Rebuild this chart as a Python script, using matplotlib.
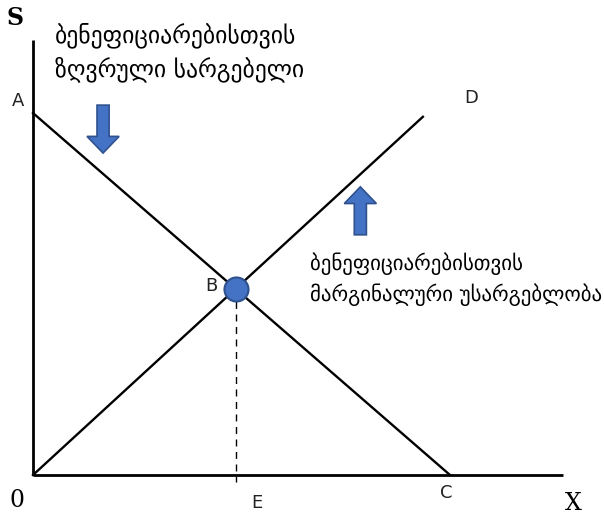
import matplotlib
matplotlib.use("Agg")
import matplotlib.pyplot as plt
import matplotlib.patches as mpatches
import numpy as np

# 1 unit = 41.7 px, origin at pixel (33, 475)
S = 41.7
W, H = 604, 517
X0, Y0 = 33, 475

# curves (data units)
demand_x = [0.0, 10.0]      # A -> C
demand_y = [8.68, 0.0]
supply_x = [0.0, 9.35]      # 0 -> D
supply_y = [0.0, 8.59]
axis_x_end = 12.7
axis_y_end = 10.43

# arrows: x centre, start y, end y
arrow_down = (1.68, 8.87, 7.72)
arrow_up = (7.85, 5.76, 6.91)

top_text = "ბენეფიციარებისთვის\nზღვრული სარგებელი"
right_text = "ბენეფიციარებისთვის\nმარგინალური უსარგებლობა"

fig = plt.figure(figsize=(W / 100, H / 100), dpi=100)
ax = fig.add_axes([0, 0, 1, 1])
ax.set_xlim(-X0 / S, (W - X0) / S)
ax.set_ylim(-(H - Y0) / S, Y0 / S)
ax.axis("off")

# axes
ax.plot([0, 0], [0, axis_y_end], color="black", lw=2.0, solid_capstyle="butt")
ax.plot([0, axis_x_end], [0, 0], color="black", lw=2.0, solid_capstyle="butt")

# lines
ax.plot(demand_x, demand_y, color="black", lw=1.7)
ax.plot(supply_x, supply_y, color="black", lw=1.7)

# intersection B
m1 = (demand_y[1] - demand_y[0]) / (demand_x[1] - demand_x[0])
m2 = (supply_y[1] - supply_y[0]) / (supply_x[1] - supply_x[0])
bx = demand_y[0] / (m2 - m1)
by = m2 * bx
ax.plot([bx, bx], [by, -0.17], color="black", lw=1.0, ls=(0, (5, 4)))
ax.scatter([bx], [by], s=300, color="#4472C4", edgecolor="#2F528F", lw=1.5, zorder=5)

# arrows
for xc, y_start, y_end in (arrow_down, arrow_up):
    ax.add_patch(mpatches.FancyArrow(xc, y_start, 0, y_end - y_start, width=0.29,
                                     head_width=0.77, head_length=0.4,
                                     length_includes_head=True,
                                     facecolor="#4472C4", edgecolor="#2F528F", lw=1.2))

# labels
lab = dict(fontsize=13, family="DejaVu Sans", ha="center", va="center", color="#222")
ax.text(-0.36, 8.96, "A", **lab)
ax.text(bx - 0.58, by + 0.08, "B", **lab)
ax.text(10.52, 9.03, "D", **lab)
ax.text(5.37, -0.68, "E", **lab)
ax.text(9.9, -0.43, "C", **lab)
serif = dict(fontsize=17, family="DejaVu Serif", ha="center", va="center")
ax.text(-0.43, 10.96, "S", fontweight="bold", **serif)
ax.text(-0.38, -0.6, "0", **serif)
ax.text(12.95, -0.68, "X", **serif)

ax.text(0.52, 10.14, top_text, fontsize=17, family="DejaVu Sans", ha="left", va="center",
        linespacing=1.45)
ax.text(6.65, 4.70, right_text, fontsize=15, family="DejaVu Sans", ha="left", va="center",
        linespacing=1.5)

fig.savefig("out.png", dpi=100)
